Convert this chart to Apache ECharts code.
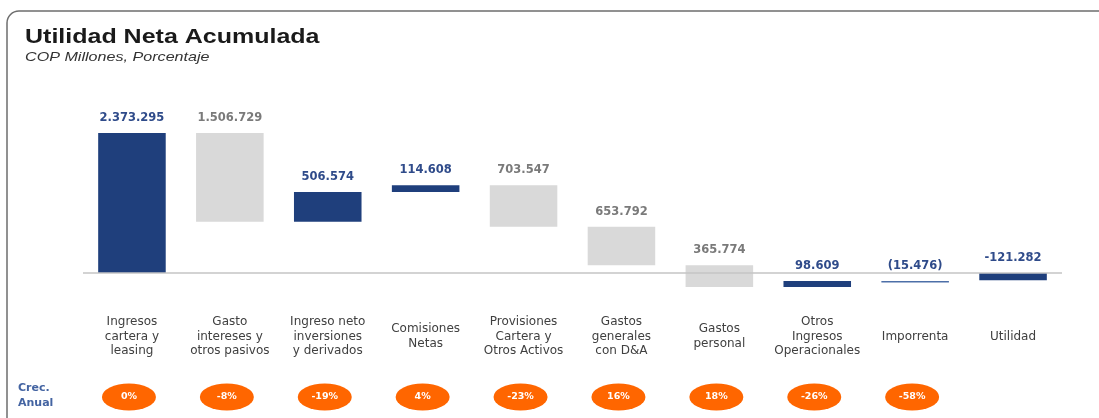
<!DOCTYPE html>
<html>
<head>
<meta charset="utf-8">
<script src="https://cdn.jsdelivr.net/npm/echarts@6/dist/echarts.min.js"></script>
<style>
html,body{margin:0;padding:0;background:#fff;}
#chart{width:1099px;height:418px;}
</style>
</head>
<body>
<div id="chart"></div>
<script>
// ---- data ----
var titleText = "Utilidad Neta Acumulada";
var subtitleText = "COP Millones, Porcentaje";
var categories = [
  "Ingresos\ncartera y\nleasing",
  "Gasto\nintereses y\notros pasivos",
  "Ingreso neto\ninversiones\ny derivados",
  "Comisiones\nNetas",
  "Provisiones\nCartera y\nOtros Activos",
  "Gastos\ngenerales\ncon D&A",
  "Gastos\npersonal",
  "Otros\nIngresos\nOperacionales",
  "Imporrenta",
  "Utilidad"
];
// signed change of each step (COP millones); last one is the total
var changes = [2373295, -1506729, 506574, 114608, -703547, -653792, -365774, 98609, -15476, -121282];
// 'up' = income, 'down' = expense, 'tax', 'total'
var kinds = ["up", "down", "up", "up", "down", "down", "down", "up", "tax", "total"];
var valueLabels = ["2.373.295", "1.506.729", "506.574", "114.608", "703.547", "653.792", "365.774", "98.609", "(15.476)", "-121.282"];
// annual growth, %
var growth = [0, -8, -19, 4, -23, 16, 18, -26, -58, null];

// ---- build waterfall ranges ----
var ranges = [];
var level = 0;
for (var i = 0; i < changes.length; i++) {
  var start, end;
  if (kinds[i] === "total") { start = 0; end = changes[i]; }
  else { start = level; end = level + changes[i]; level = end; }
  ranges.push([i, start, end]);
}

var BLUE = "#1f3f7c", GRAY = "#d9d9d9";
var LBL_BLUE = "#2f4b8a", LBL_GRAY = "#7a7a7a";
function isBlue(k) { return k !== "down"; }

var chart = echarts.init(document.getElementById("chart"), null, {renderer: "canvas"});
var option = {
  animation: false,
  graphic: [
    {type: "rect", shape: {x: 7, y: 11, width: 1200, height: 500, r: 12},
     style: {fill: "none", stroke: "#6e6e6e", lineWidth: 1.5}, silent: true},
    {type: "text", x: 25, y: 27, scaleX: 1.25, originX: 0, originY: 0,
     style: {text: titleText, font: "bold 20px Liberation Sans", fill: "#1a1a1a", verticalAlign: "top"}},
    {type: "text", x: 25, y: 51, scaleX: 1.24, originX: 0, originY: 0,
     style: {text: subtitleText, font: "italic 13px Liberation Sans", fill: "#333", verticalAlign: "top"}},
    {type: "text", left: 18, top: 381,
     style: {text: "Crec.\nAnual", font: "bold 11px DejaVu Sans", fill: "#4464a2", lineHeight: 15}}
  ],
  grid: [
    {left: 83, right: 37, top: 125.5, bottom: 115.5},
    {left: 80, right: 40, top: 384, height: 26}
  ],
  xAxis: [
    {type: "category", gridIndex: 0, data: categories,
     axisLine: {show: false}, axisTick: {show: false},
     axisLabel: {interval: 0, margin: 34, verticalAlign: "middle", align: "center",
       fontFamily: "DejaVu Sans", fontSize: 12, lineHeight: 14.5, color: "#404040"}},
    {type: "category", gridIndex: 1, data: categories, show: false}
  ],
  yAxis: [
    {type: "value", gridIndex: 0, min: -500000, max: 2500000, show: false, splitLine: {show: false}},
    {type: "value", gridIndex: 1, min: 0, max: 1, show: false, splitLine: {show: false}}
  ],
  series: [
    {
      type: "custom",
      xAxisIndex: 0, yAxisIndex: 0,
      data: ranges,
      renderItem: function (params, api) {
        var idx = api.value(0);
        var p0 = api.coord([idx, api.value(1)]);
        var p1 = api.coord([idx, api.value(2)]);
        var w = api.size([1, 0])[0] * 0.69;
        var top = Math.min(p0[1], p1[1]);
        var h = Math.max(Math.abs(p1[1] - p0[1]), 1.5);
        var k = kinds[idx];
        var fill = isBlue(k) ? BLUE : GRAY;
        if (k === "tax") fill = "#4d6fa8";
        return {
          type: "group",
          children: [
            {type: "rect", shape: {x: p0[0] - w / 2, y: top, width: w, height: h}, style: {fill: fill}},
            {type: "text", x: p0[0], y: top - 9,
             style: {text: valueLabels[idx], textAlign: "center", textVerticalAlign: "bottom",
               font: "bold 11.5px DejaVu Sans", fill: isBlue(k) ? LBL_BLUE : LBL_GRAY}}
          ]
        };
      },
      markLine: {
        silent: true, symbol: "none", label: {show: false},
        lineStyle: {color: "#c4c4c4", width: 1.5, type: "solid"},
        data: [{yAxis: 0}]
      },
      z: 3
    },
    {
      type: "scatter",
      xAxisIndex: 1, yAxisIndex: 1,
      symbol: "circle",
      symbolSize: [54, 27],
      itemStyle: {color: "#ff6600", opacity: 1},
      data: growth.map(function (g, i) { return g === null ? null : [i, 0.5, g]; }).filter(function (d) { return d; }),
      label: {show: true, position: "inside", color: "#fff", fontWeight: "bold",
        fontFamily: "DejaVu Sans", fontSize: 9.5,
        formatter: function (p) { return p.value[2] + "%"; }}
    }
  ]
};
chart.setOption(option);
</script>
</body>
</html>
